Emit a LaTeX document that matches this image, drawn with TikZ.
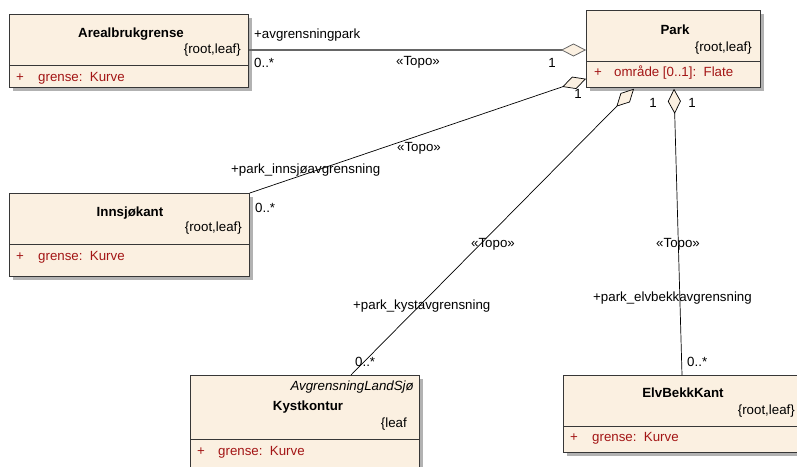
\documentclass[tikz,border=0pt]{standalone}
\usepackage{fontspec}
\setmainfont{Liberation Sans}
\usetikzlibrary{arrows.meta,shadows,calc}
\definecolor{cream}{RGB}{251,240,225}
\definecolor{attr}{RGB}{163,21,21}
\definecolor{edge}{RGB}{55,55,55}
\begin{document}
\begin{tikzpicture}[x=1pt,y=-1pt,font=\fontsize{13.3}{15}\selectfont,
  cls/.style={draw=edge, fill=cream, line width=0.8pt, inner sep=0pt, anchor=north west,
    general shadow={fill=black!30, shadow xshift=4pt, shadow yshift=-4pt}},
  sep/.style={draw=edge, line width=0.8pt},
  cname/.style={font=\fontsize{13.3}{15}\selectfont\bfseries, inner sep=0pt},
  tagr/.style={inner sep=0pt, anchor=east},
  attrt/.style={inner sep=0pt, anchor=west, text=attr},
  lbl/.style={inner sep=0pt, anchor=west},
  lblc/.style={inner sep=0pt},
  assoc/.style={draw=black, line width=0.7pt, -{Diamond[length=25pt,width=13pt,fill=cream,line width=0.7pt]}},
  assocg/.style={draw=black!60, line width=1.2pt, -{Diamond[length=25pt,width=13pt,fill=cream,line width=0.8pt]}}]
\useasboundingbox (0,0) rectangle (797,466);
\clip (0,0) rectangle (797,466);
\fill[white] (0,0) rectangle (797,466);

% Classes
\node[cls, minimum width=239pt, minimum height=73pt] (arl) at (9,14) {};
\draw[sep] (arl.west |- 0,65) -- (arl.east |- 0,65);
\node[cname] (arl-name) at (131,34) {Arealbrukgrense};
\node[tagr] (arl-tag) at (241,50) {\{root,leaf\}};
\node[attrt] (arl-plus) at (16,78) {+};
\node[attrt] (arl-attr) at (38,78) {grense:\ \ Kurve};

\node[cls, minimum width=174pt, minimum height=77pt] (park) at (586,10) {};
\draw[sep] (park.west |- 0,61) -- (park.east |- 0,61);
\node[cname] (park-name) at (675,30) {Park};
\node[tagr] (park-tag) at (752,48) {\{root,leaf\}};
\node[attrt] (park-plus) at (594,73) {+};
\node[attrt] (park-attr) at (614,73) {område [0..1]:\ \ Flate};

\node[cls, minimum width=240pt, minimum height=83pt] (inn) at (9,193) {};
\draw[sep] (inn.west |- 0,244) -- (inn.east |- 0,244);
\node[cname] (inn-name) at (130,213) {Innsjøkant};
\node[tagr] (inn-tag) at (242,228) {\{root,leaf\}};
\node[attrt] (inn-plus) at (16,257) {+};
\node[attrt] (inn-attr) at (38,257) {grense:\ \ Kurve};

\node[cls, minimum width=229pt, minimum height=110pt] (kys) at (190,375) {};
\draw[sep] (kys.west |- 0,439) -- (kys.east |- 0,439);
\node[tagr, font=\fontsize{13.3}{15}\selectfont\itshape] (kys-stereo) at (414,387) {AvgrensningLandSjø};
\node[cname] (kys-name) at (308,407) {Kystkontur};
\node[tagr] (kys-tag) at (407,424) {\{leaf};
\node[attrt] (kys-plus) at (197,452) {+};
\node[attrt] (kys-attr) at (218,452) {grense:\ \ Kurve};

\node[cls, minimum width=240pt, minimum height=77pt] (elv) at (563,375) {};
\draw[sep] (elv.west |- 0,426) -- (elv.east |- 0,426);
\node[cname] (elv-name) at (683,393) {ElvBekkKant};
\node[tagr] (elv-tag) at (795,411) {\{root,leaf\}};
\node[attrt] (elv-plus) at (570,438) {+};
\node[attrt] (elv-attr) at (592,438) {grense:\ \ Kurve};

% Connectors
\draw[assocg] (arl.east |- 0,50) -- (park.west |- 0,50);
\draw[assoc] (inn.north east) -- ([yshift=9pt]park.south west);
\draw[assoc] ([xshift=161pt]kys.north west) -- ([xshift=48pt,yshift=-1pt]park.south west);
\draw[assoc] ([xshift=119pt]elv.north west) -- ([xshift=88pt,yshift=-1pt]park.south west);

% Connector labels
\node[lbl] (l1r) at (254,35) {+avgrensningpark};
\node[lbl] (l1m) at (254,63) {0..*};
\node[lblc] (l1s) at (418,62) {«Topo»};
\node[lblc] (l1o) at (552,63) {1};

\node[lbl] (l2r) at (231,170) {+park\_innsjøavgrensning};
\node[lbl] (l2m) at (255,208) {0..*};
\node[lblc] (l2s) at (419,148) {«Topo»};
\node[lblc] (l2o) at (578,94) {1};

\node[lbl] (l3r) at (353,306) {+park\_kystavgrensning};
\node[lbl] (l3m) at (355,362) {0..*};
\node[lblc] (l3s) at (493,244) {«Topo»};

\node[lbl] (l4r) at (593,298) {+park\_elvbekkavgrensning};
\node[lbl] (l4m) at (687,362) {0..*};
\node[lblc] (l4s) at (678,244) {«Topo»};
\node[lblc] (l4o1) at (653,103) {1};
\node[lblc] (l4o2) at (692,103) {1};
\end{tikzpicture}
\end{document}
